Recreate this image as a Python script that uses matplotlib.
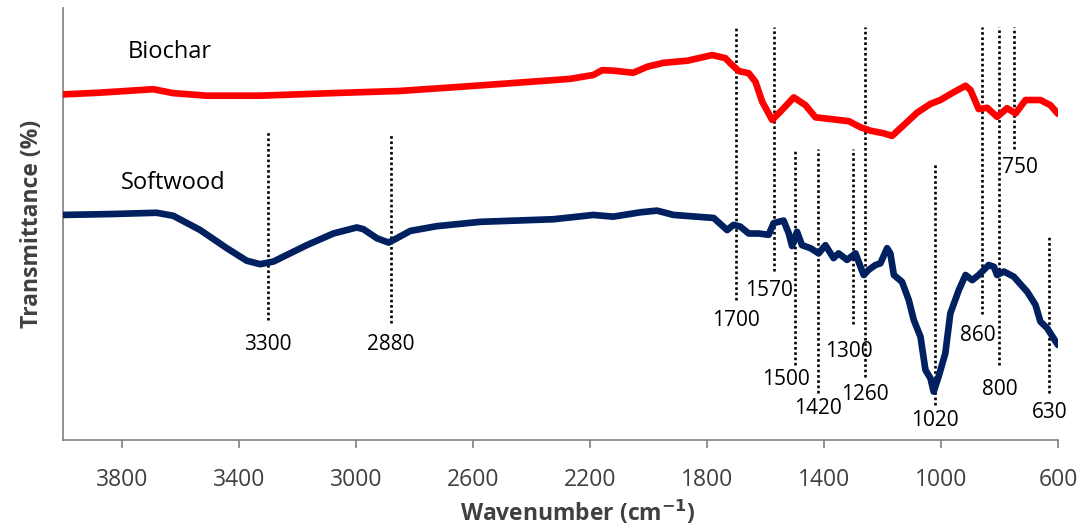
import matplotlib
matplotlib.use("Agg")
import matplotlib.pyplot as plt

plt.rcParams["font.family"] = ["Open Sans", "DejaVu Sans"]

# FTIR spectra, wavenumber (cm-1) vs. transmittance (arbitrary offset scale)
biochar_wn = [4000, 3875, 3693, 3625, 3509, 3327, 3078, 2849, 2633, 2325,
              2267, 2188, 2158, 2120, 2052, 2004, 1949, 1867, 1782, 1737,
              1720, 1691, 1657, 1634, 1611, 1577, 1549, 1503, 1463, 1429,
              1378, 1315, 1275, 1241, 1196, 1167, 1127, 1081, 1036, 1002,
              962, 916, 899, 871, 842, 808, 774, 745, 711, 660, 626, 600]
biochar_t = [80.0, 80.4, 81.2, 80.3, 79.7, 79.7, 80.3, 80.8, 81.8, 83.3,
             83.6, 84.5, 85.6, 85.5, 85.0, 86.4, 87.3, 87.8, 89.1, 88.4,
             87.2, 85.4, 84.9, 82.9, 78.3, 74.1, 76.0, 79.3, 77.5, 74.7,
             74.3, 73.8, 72.4, 71.6, 71.0, 70.4, 72.9, 75.8, 77.8, 78.7,
             80.3, 82.0, 81.0, 76.6, 76.9, 74.8, 76.8, 75.6, 78.7, 78.7,
             77.5, 75.5]

softwood_wn = [4000, 3840, 3681, 3624, 3532, 3441, 3373, 3327, 3282, 3168,
               3077, 2997, 2974, 2928, 2888, 2860, 2814, 2723, 2575, 2325,
               2188, 2120, 2028, 1971, 1914, 1777, 1731, 1709, 1686, 1657,
               1623, 1589, 1572, 1538, 1520, 1509, 1492, 1475, 1446, 1418,
               1395, 1367, 1350, 1321, 1292, 1275, 1264, 1247, 1224, 1207,
               1184, 1173, 1161, 1133, 1110, 1093, 1070, 1053, 1036, 1025,
               1008, 985, 968, 939, 916, 893, 871, 837, 819, 808,
               785, 751, 705, 677, 660, 637, 608, 600]
softwood_t = [52.1, 52.3, 52.6, 51.9, 48.6, 44.4, 41.5, 40.7, 41.3, 45.1,
              47.8, 49.2, 48.8, 46.7, 45.7, 46.7, 48.4, 49.5, 50.5, 51.1,
              52.1, 51.7, 52.7, 53.1, 52.1, 51.4, 48.6, 49.8, 49.4, 47.8,
              47.8, 47.5, 50.2, 50.8, 47.8, 44.9, 48.2, 45.1, 44.4, 43.2,
              45.1, 42.1, 43.2, 41.7, 43.2, 40.1, 38.2, 39.4, 40.5, 40.9,
              44.4, 43.2, 38.2, 36.6, 32.4, 27.8, 23.9, 16.2, 14.3, 11.2,
              14.7, 20.1, 29.3, 34.7, 38.2, 37.0, 38.2, 40.5, 40.1, 38.2,
              39.0, 37.8, 34.3, 31.3, 27.4, 25.9, 22.8, 22.0]

# band assignments marked on the spectra
peak_labels = [3300, 2880, 1700, 1570, 1500, 1420, 1300, 1260, 1020, 860, 800, 750, 630]

x_ticks = [3800, 3400, 3000, 2600, 2200, 1800, 1400, 1000, 600]

# marker line extent (top, bottom) and label placement (dx in points, y)
marker_layout = {
    3300: (71.5, 27.8, 0, 22.0),
    2880: (71.1, 27.1, 0, 22.0),
    1700: (95.6, 32.4, 0, 27.6),
    1570: (95.6, 39.2, -4, 34.6),
    1500: (67.4, 17.4, -6, 13.9),
    1420: (67.4, 10.9, 0, 7.4),
    1300: (67.4, 26.9, -3, 20.4),
    1260: (95.6, 14.7, 0, 10.6),
    1020: (63.9, 8.1, 0, 4.5),
    860: (95.6, 29.2, -3, 24.3),
    800: (95.6, 17.4, 0, 11.7),
    750: (95.6, 67.4, 4, 63.1),
    630: (47.0, 10.9, 0, 6.3),
}

fig = plt.figure(figsize=(10.82, 5.29), dpi=100)
ax = fig.add_axes([0.0585, 0.1682, 0.9193, 0.8167])

ax.plot(biochar_wn, biochar_t, color="#FF0000", lw=4.8, solid_joinstyle="round",
        solid_capstyle="round", zorder=3)
ax.plot(softwood_wn, softwood_t, color="#002060", lw=4.8, solid_joinstyle="round",
        solid_capstyle="round", zorder=3)

for w in peak_labels:
    top, bottom, dx, ty = marker_layout[w]
    ax.vlines(w, bottom, top, colors="black", linestyles=(0, (1, 1)), lw=1.9, zorder=2)
    ax.annotate(str(w), xy=(w, ty), xytext=(dx, 0), textcoords="offset points",
                ha="center", va="center", fontsize=15, color="black")

ax.text(3635, 89.8, "Biochar", ha="center", va="center", fontsize=17, color="black")
ax.text(3625, 59.6, "Softwood", ha="center", va="center", fontsize=17, color="black")

ax.set_xlim(4000, 600)
ax.set_ylim(0, 100)
ax.set_xticks(x_ticks)
ax.set_xticklabels([str(t) for t in x_ticks])
ax.set_yticks([])

for side in ("top", "right"):
    ax.spines[side].set_visible(False)
for side in ("left", "bottom"):
    ax.spines[side].set_color("#808080")
    ax.spines[side].set_linewidth(1.2)

ax.tick_params(axis="x", direction="out", length=6, width=1.2, color="#808080",
               labelsize=16.5, labelcolor="#404040", pad=14)

fig.text(0.534, 0.030, "Wavenumber (cm$^{\\mathbf{-1}}$)", ha="center", va="center",
         fontsize=16.5, fontweight="bold", color="#404040")
ax.set_ylabel("Transmittance (%)", fontsize=16.5, fontweight="bold", color="#404040", labelpad=14)

fig.savefig("out.png", dpi=100)
